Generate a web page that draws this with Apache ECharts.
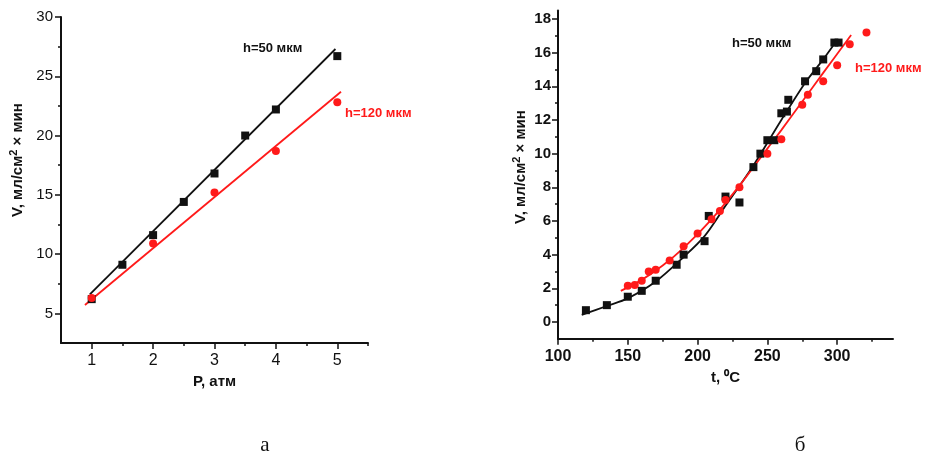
<!DOCTYPE html>
<html>
<head>
<meta charset="utf-8">
<script src="https://cdn.jsdelivr.net/npm/echarts@6/dist/echarts.min.js"></script>
<style>
  html, body { margin: 0; padding: 0; background: #fff; }
  #chart { width: 931px; height: 455px; }
</style>
</head>
<body>
<div id="chart"></div>
<script>
// (а) V vs P
const pBlack = [1, 1.5, 2, 2.5, 3, 3.5, 4, 5];
const vBlackP = [6.2, 9.1, 11.6, 14.4, 16.8, 20.0, 22.2, 26.7];
const pRed = [1, 2, 3, 4, 5];
const vRedP = [6.3, 10.9, 15.2, 18.7, 22.8];
const pFitBlack = [0.97, 4.97];
const vFitBlackP = [6.6, 27.3];
const pFitRed = [0.89, 5.06];
const vFitRedP = [5.7, 23.7];
const pTicks = [1, 2, 3, 4, 5];
const pMinor = [1.5, 2.5, 3.5, 4.5, 5.5];
const vTicksP = [5, 10, 15, 20, 25, 30];
const vMinorP = [7.5, 12.5, 17.5, 22.5, 27.5];

// (б) V vs t
const tBlack = [120, 135, 150, 160, 170, 185, 190, 205, 208, 220, 230, 240, 245, 250, 255, 260, 264, 265, 277, 285, 290, 298, 301];
const vBlackT = [0.7, 1.0, 1.5, 1.85, 2.45, 3.4, 4.0, 4.8, 6.3, 7.45, 7.1, 9.2, 10.0, 10.8, 10.8, 12.4, 12.5, 13.2, 14.3, 14.9, 15.6, 16.6, 16.6];
const tRed = [150, 155, 160, 165, 170, 180, 190, 200, 210, 216, 220, 230, 250, 260, 275, 279, 290, 300, 309, 321];
const vRedT = [2.15, 2.2, 2.45, 3.0, 3.1, 3.65, 4.5, 5.25, 6.1, 6.6, 7.25, 8.0, 10.0, 10.85, 12.9, 13.5, 14.3, 15.25, 16.5, 17.2];
const tFitBlack = [117, 135, 150, 170, 190, 205, 220, 240, 260, 277, 290, 300];
const vFitBlackT = [0.42, 0.95, 1.4, 2.4, 3.86, 5.1, 6.9, 9.3, 12.0, 14.2, 15.6, 16.75];
const tFitRed = [145, 160, 175, 190, 210, 230, 250, 260, 275, 290, 310];
const vFitRedT = [1.85, 2.5, 3.35, 4.4, 6.1, 8.1, 10.3, 11.4, 13.1, 14.8, 17.05];
const tTicks = [100, 150, 200, 250, 300];
const tMinor = [125, 175, 225, 275, 325];
const vTicksT = [0, 2, 4, 6, 8, 10, 12, 14, 16, 18];
const vMinorT = [1, 3, 5, 7, 9, 11, 13, 15, 17];

const BLACK = '#111111';
const RED = '#ff1a1a';

function pairs(xs, ys) {
    return xs.map((x, i) => [x, ys[i]]);
}

// основная ось (подписи + крупные риски)
function mainAxis(gridIndex, pos, min, max, ticks, label) {
    return {
        type: 'value', gridIndex, position: pos, min, max,
        axisLine: { show: true, onZero: false, lineStyle: { color: BLACK, width: 2 } },
        axisTick: { show: true, customValues: ticks, length: 6, lineStyle: { color: BLACK, width: 1.5 } },
        axisLabel: Object.assign({ customValues: ticks, color: BLACK, fontFamily: 'Liberation Sans', fontSize: 15 }, label),
        splitLine: { show: false }
    };
}

// вспомогательная ось только для мелких рисок
function minorAxis(gridIndex, pos, min, max, ticks) {
    return {
        type: 'value', gridIndex, position: pos, min, max,
        axisLine: { show: false, onZero: false },
        axisTick: { show: true, customValues: ticks, length: 3, lineStyle: { color: BLACK, width: 1.5 } },
        axisLabel: { show: false },
        splitLine: { show: false }
    };
}

function fitLine(xi, xs, ys, color, smooth) {
    return {
        type: 'line', xAxisIndex: xi, yAxisIndex: xi,
        data: pairs(xs, ys), showSymbol: false, smooth: smooth,
        lineStyle: { color: color, width: 1.8 }, z: 2, silent: true
    };
}

function points(xi, xs, ys, color, symbol) {
    return {
        type: 'scatter', xAxisIndex: xi, yAxisIndex: xi,
        data: pairs(xs, ys), symbol: symbol, symbolSize: 8,
        itemStyle: { color: color, opacity: 1 }, z: 3
    };
}

const nameStyle = { color: BLACK, fontFamily: 'Liberation Sans', fontSize: 15, fontWeight: 'bold' };
const vName = {
    text: '{b|V, мл/см}{s|2}{b| × мин}',
    fill: BLACK, align: 'center', verticalAlign: 'middle',
    rich: {
        b: { font: 'bold 15px "Liberation Sans"', fill: BLACK, verticalAlign: 'bottom', lineHeight: 17 },
        s: { font: 'bold 11px "Liberation Sans"', fill: BLACK, verticalAlign: 'top', lineHeight: 17 }
    }
};

const chart = echarts.init(document.getElementById('chart'));

const option = {
    animation: false,
    backgroundColor: '#fff',
    grid: [
        { left: 61, top: 17, width: 307, height: 326 },
        { left: 558, top: 10.6, width: 335, height: 328.2 }
    ],
    xAxis: [
        Object.assign(mainAxis(0, 'bottom', 0.5, 5.5, pTicks, { margin: 10, fontSize: 16 }),
            { name: 'P, атм', nameLocation: 'middle', nameGap: 31, nameTextStyle: nameStyle }),
        minorAxis(0, 'bottom', 0.5, 5.5, pMinor),
        Object.assign(mainAxis(1, 'bottom', 100, 340, tTicks, { margin: 10, fontSize: 16, fontWeight: 'bold' }),
            { name: 't, ⁰C', nameLocation: 'middle', nameGap: 32, nameTextStyle: nameStyle }),
        minorAxis(1, 'bottom', 100, 340, tMinor)
    ],
    yAxis: [
        mainAxis(0, 'left', 2.5, 30, vTicksP, { margin: 8 }),
        minorAxis(0, 'left', 2.5, 30, vMinorP),
        mainAxis(1, 'left', -1, 18.5, vTicksT, { margin: 7, fontWeight: 'bold' }),
        minorAxis(1, 'left', -1, 18.5, vMinorT)
    ],
    graphic: [
        { type: 'text', x: 17, y: 160, rotation: Math.PI / 2, style: vName },
        { type: 'text', x: 520, y: 167, rotation: Math.PI / 2, style: vName },
        { type: 'text', x: 243, y: 48,
          style: { text: 'h=50 мкм', fill: BLACK, font: 'bold 13px "Liberation Sans"', align: 'left', verticalAlign: 'middle' } },
        { type: 'text', x: 345, y: 113,
          style: { text: 'h=120 мкм', fill: RED, font: 'bold 13px "Liberation Sans"', align: 'left', verticalAlign: 'middle' } },
        { type: 'text', x: 732, y: 43,
          style: { text: 'h=50 мкм', fill: BLACK, font: 'bold 13px "Liberation Sans"', align: 'left', verticalAlign: 'middle' } },
        { type: 'text', x: 855, y: 68,
          style: { text: 'h=120 мкм', fill: RED, font: 'bold 13px "Liberation Sans"', align: 'left', verticalAlign: 'middle' } },
        { type: 'text', x: 265, y: 445,
          style: { text: 'а', fill: BLACK, font: '21px "Liberation Serif"', align: 'center', verticalAlign: 'middle' } },
        { type: 'text', x: 800, y: 445,
          style: { text: 'б', fill: BLACK, font: '21px "Liberation Serif"', align: 'center', verticalAlign: 'middle' } }
    ],
    series: [
        fitLine(0, pFitBlack, vFitBlackP, BLACK, false),
        fitLine(0, pFitRed, vFitRedP, RED, false),
        points(0, pBlack, vBlackP, BLACK, 'rect'),
        points(0, pRed, vRedP, RED, 'circle'),
        fitLine(2, tFitBlack, vFitBlackT, BLACK, 0.3),
        fitLine(2, tFitRed, vFitRedT, RED, 0.3),
        points(2, tBlack, vBlackT, BLACK, 'rect'),
        points(2, tRed, vRedT, RED, 'circle')
    ]
};

chart.setOption(option);
window.addEventListener('resize', () => chart.resize());
</script>
</body>
</html>
